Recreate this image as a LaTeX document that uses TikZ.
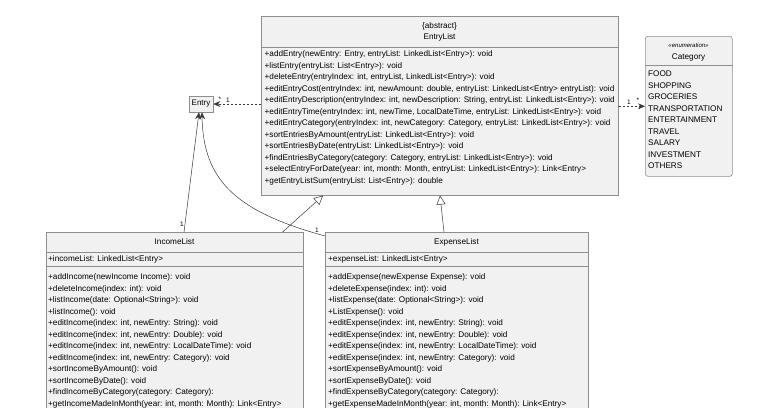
\documentclass[tikz,border=0pt]{standalone}
\usepackage{fontspec}
\setmainfont{Liberation Sans}
\usetikzlibrary{arrows.meta,positioning,calc}
\definecolor{umlFill}{HTML}{F1F1F1}
\definecolor{umlLine}{HTML}{8E8E8E}
\definecolor{umlInk}{HTML}{383838}
\tikzset{
  classbox/.style={draw=umlLine, fill=umlFill, line width=0.6pt, inner sep=0pt, anchor=north west},
  sepline/.style={draw=umlLine, line width=0.6pt},
  classTitle/.style={font=\fontsize{8.2}{9}\selectfont, text=black, inner sep=0pt},
  members/.style={font=\fontsize{8.2}{11.5}\selectfont, text=black, align=left, inner sep=0pt, anchor=north west},
  isa/.style={draw=umlInk, line width=0.5pt, -{Triangle[open, length=9pt, width=9pt, fill=white]}},
  assoc/.style={draw=umlInk, line width=0.5pt, -{Stealth[length=7pt, width=6pt]}},
  dep/.style={assoc, dash pattern=on 2pt off 2pt},
  mult/.style={font=\fontsize{6.5}{7}\selectfont, text=black, inner sep=0pt}
}

\begin{document}
\begin{tikzpicture}[x=1pt, y=-1pt]
\useasboundingbox (0,0) rectangle (767,407);
\clip (0,0) rectangle (767,407);

% ------------------------------------------------------------
% TOP: abstract EntryList
% ------------------------------------------------------------
\node[classbox, minimum width=357pt, minimum height=179pt] (entrylist) at (261,16) {};
\node[classTitle] (abstractTag) at (439.5,26) {\{abstract\}};
\node[classTitle] (entrylistName) at (439.5,37) {EntryList};
\draw[sepline] ($(entrylist.north west)+(0,31)$) -- ($(entrylist.north east)+(0,31)$);
\node[members] (entrylistOps) at (264.5,48.6)
{\strut+addEntry(newEntry: Entry, entryList: LinkedList<Entry>): void\\
+listEntry(entryList: List<Entry>): void\\
+deleteEntry(entryIndex: int, entryList, LinkedList<Entry>): void\\
+editEntryCost(entryIndex: int, newAmount: double, entryList: LinkedList<Entry> entryList): void\\
+editEntryDescription(entryIndex: int, newDescription: String, entryList: LinkedList<Entry>): void\\
+editEntryTime(entryIndex: int, newTime, LocalDateTime, entryList: LinkedList<Entry>): void\\
+editEntryCategory(entryIndex: int, newCategory: Category, entryList: LinkedList<Entry>): void\\
+sortEntriesByAmount(entryList: LinkedList<Entry>): void\\
+sortEntriesByDate(entryList: LinkedList<Entry>): void\\
+findEntriesByCategory(category: Category, entryList: LinkedList<Entry>): void\\
+selectEntryForDate(year: int, month: Month, entryList: LinkedList<Entry>): Link<Entry>\\
+getEntryListSum(entryList: List<Entry>): double};

% ------------------------------------------------------------
% RIGHT: Category enumeration
% ------------------------------------------------------------
\node[classbox, rounded corners=2.5pt, minimum width=87pt, minimum height=140pt] (category) at (645,36) {};
\node[classTitle, font=\fontsize{6}{7}\selectfont\itshape] (enumTag) at (688.5,45) {«enumeration»};
\node[classTitle] (categoryName) at (688.5,57) {Category};
\draw[sepline] ($(category.north west)+(0,29)$) -- ($(category.north east)+(0,29)$);
\node[members] (categoryItems) at (648,68.6)
{\strut FOOD\\ SHOPPING\\ GROCERIES\\ TRANSPORTATION\\ ENTERTAINMENT\\
TRAVEL\\ SALARY\\ INVESTMENT\\ OTHERS};

% ------------------------------------------------------------
% LEFT: Entry
% ------------------------------------------------------------
\node[classbox, anchor=center, minimum width=24pt, minimum height=16pt,
      font=\fontsize{8}{9}\selectfont] (entry) at (201,104) {Entry};

% ------------------------------------------------------------
% BOTTOM: IncomeList and ExpenseList
% ------------------------------------------------------------
\node[classbox, minimum width=257pt, minimum height=200pt] (incomelist) at (46,232) {};
\node[classTitle] (incomelistName) at (174.5,242) {IncomeList};
\draw[sepline] ($(incomelist.north west)+(0,20)$) -- ($(incomelist.north east)+(0,20)$);
\node[members] (incomelistAttr) at (48,253.6) {\strut+incomeList: LinkedList<Entry>};
\draw[sepline] ($(incomelist.north west)+(0,34)$) -- ($(incomelist.north east)+(0,34)$);
\node[members] (incomelistOps) at (48,271.6)
{\strut+addIncome(newIncome Income): void\\
+deleteIncome(index: int): void\\
+listIncome(date: Optional<String>): void\\
+listIncome(): void\\
+editIncome(index: int, newEntry: String): void\\
+editIncome(index: int, newEntry: Double): void\\
+editIncome(index: int, newEntry: LocalDateTime): void\\
+editIncome(index: int, newEntry: Category): void\\
+sortIncomeByAmount(): void\\
+sortIncomeByDate(): void\\
+findIncomeByCategory(category: Category):\\
+getIncomeMadeInMonth(year: int, month: Month): Link<Entry>};

\node[classbox, minimum width=263pt, minimum height=200pt] (expenselist) at (325,232) {};
\node[classTitle] (expenselistName) at (456.5,242) {ExpenseList};
\draw[sepline] ($(expenselist.north west)+(0,20)$) -- ($(expenselist.north east)+(0,20)$);
\node[members] (expenselistAttr) at (328,253.6) {\strut+expenseList: LinkedList<Entry>};
\draw[sepline] ($(expenselist.north west)+(0,34)$) -- ($(expenselist.north east)+(0,34)$);
\node[members] (expenselistOps) at (328,271.6)
{\strut+addExpense(newExpense Expense): void\\
+deleteExpense(index: int): void\\
+listExpense(date: Optional<String>): void\\
+ListExpense(): void\\
+editExpense(index: int, newEntry: String): void\\
+editExpense(index: int, newEntry: Double): void\\
+editExpense(index: int, newEntry: LocalDateTime): void\\
+editExpense(index: int, newEntry: Category): void\\
+sortExpenseByAmount(): void\\
+sortExpenseByDate(): void\\
+findExpenseByCategory(category: Category):\\
+getExpenseMadeInMonth(year: int, month: Month): Link<Entry>};

% ------------------------------------------------------------
% Relations
% ------------------------------------------------------------
\draw[isa] ($(incomelist.north east)+(-21,0)$) -- ($(entrylist.south west)+(62,0)$);
\draw[isa] ($(expenselist.north west)+(119,0)$) -- ($(entrylist.south west)+(179,0)$);

\draw[assoc] ($(incomelist.north west)+(138,0)$) -- ($(entry.south)+(-2,0)$);
\draw[assoc] ($(expenselist.north west)+(0,4)$) .. controls (238,212) and (203,182) .. ($(entry.south)+(1,0)$);
\node[mult] (incomeMult) at (182,224) {1};
\node[mult] (expenseMult) at (317,230) {1};

\draw[dep] (entry.east -| entrylist.west) -- (entry.east);
\node[mult] (entryStar) at (220,99) {*};
\node[mult] (entryOne) at (228,100) {1};

\draw[dep] (category.west -| entrylist.east) -- (category.west);
\node[mult] (categoryOne) at (629,102) {1};
\node[mult] (categoryStar) at (638,100) {*};

\end{tikzpicture}
\end{document}
